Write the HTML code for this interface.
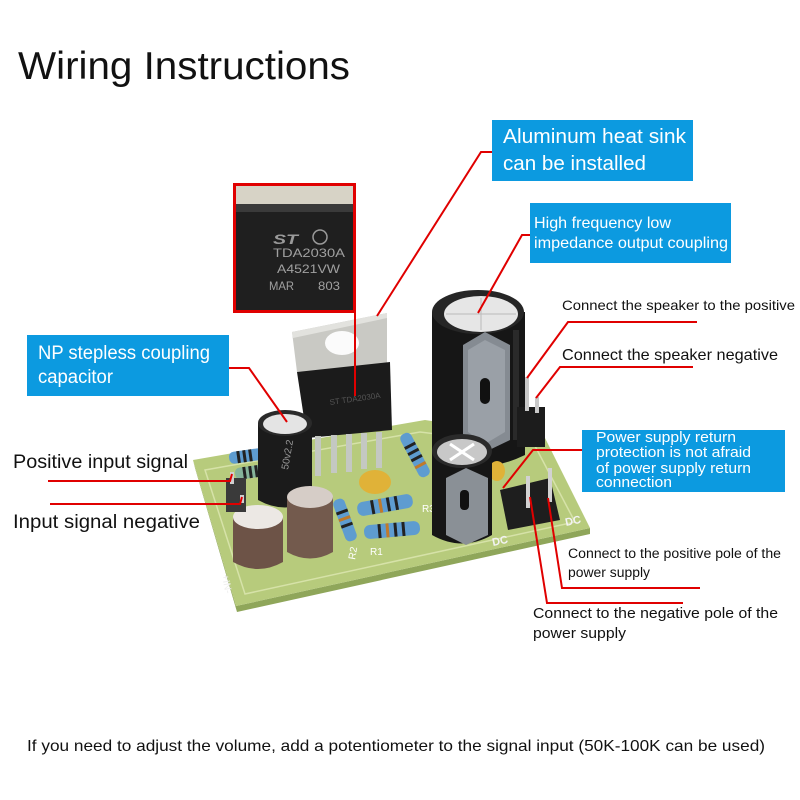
<!DOCTYPE html>
<html><head><meta charset="utf-8"><style>
html,body{margin:0;padding:0;background:#fff;}
svg{display:block;}
text{font-family:"Liberation Sans",sans-serif;}
</style></head><body>
<svg width="800" height="800" viewBox="0 0 800 800" xmlns="http://www.w3.org/2000/svg">
<rect width="800" height="800" fill="#fff"/>

<!-- Title -->
<text x="18" y="79" font-size="39" fill="#111" textLength="332" lengthAdjust="spacingAndGlyphs">Wiring Instructions</text>

<!-- ===== PCB photo approximation ===== -->
<!-- board thickness -->
<polygon points="193,460 236,606 590,528 590,534 237,612 195,468" fill="#8fa65a"/>
<!-- board -->
<polygon points="193,460 425,420 545,438 590,528 236,606" fill="#b7cb7c"/>
<polygon points="205,470 420,432 535,446 575,522 245,594" fill="none" stroke="#d6e2a8" stroke-width="1.5"/>

<!-- back-left resistors -->
<g transform="translate(246,456) rotate(-8)">
 <rect x="-17" y="-6" width="34" height="12" rx="5" fill="#5e9cd0"/>
 <rect x="-9" y="-6" width="3" height="12" fill="#222"/><rect x="-3" y="-6" width="3" height="12" fill="#222"/><rect x="3" y="-6" width="3" height="12" fill="#222"/>
</g>
<g transform="translate(251,472) rotate(-8)">
 <rect x="-16" y="-6" width="32" height="12" rx="5" fill="#86b49a"/>
 <rect x="-8" y="-6" width="3" height="12" fill="#222"/><rect x="-2" y="-6" width="3" height="12" fill="#222"/><rect x="4" y="-6" width="3" height="12" fill="#222"/>
</g>

<!-- big capacitor back -->
<path d="M432,312 L432,455 Q478,478 525,455 L525,312 Z" fill="#161616"/>
<ellipse cx="478" cy="312" rx="46" ry="22" fill="#262626"/>
<ellipse cx="481" cy="314" rx="37" ry="18" fill="#e6e6e6"/>
<line x1="481" y1="298" x2="481" y2="330" stroke="#bbb" stroke-width="1"/>
<line x1="446" y1="314" x2="516" y2="314" stroke="#bbb" stroke-width="1"/>
<polygon points="463,345 485,332 510,345 510,440 485,452 463,440" fill="#858b92"/>
<polygon points="468,350 485,340 505,350 505,432 485,444 468,432" fill="#9aa0a7"/>
<rect x="480" y="378" width="10" height="26" rx="5" fill="#111"/>
<rect x="513" y="330" width="6" height="110" fill="#2a2a2a"/>

<!-- IC tab -->
<polygon points="292,332 387,313 387,366 297,372" fill="#c9c9c4"/>
<polygon points="292,332 387,313 387,318 293,338" fill="#e2e2de"/>
<ellipse cx="342" cy="343" rx="17" ry="12" fill="#fbfbfb"/>
<!-- IC body -->
<polygon points="297,372 390,362 392,430 307,438" fill="#1b1b1b"/>
<text x="330" y="405" font-size="8" fill="#555" transform="rotate(-8 330 405)">ST TDA2030A</text>
<!-- pins -->
<g fill="#c4c8c2">
 <rect x="315" y="436" width="6" height="40"/>
 <rect x="331" y="435" width="6" height="38"/>
 <rect x="346" y="434" width="6" height="38"/>
 <rect x="361" y="433" width="6" height="36"/>
 <rect x="376" y="432" width="6" height="36"/>
</g>

<!-- resistor right of IC -->
<g transform="translate(415,455) rotate(62)">
 <rect x="-24" y="-6" width="48" height="12" rx="5" fill="#5e9cd0"/>
 <rect x="-12" y="-6" width="3" height="12" fill="#222"/><rect x="-5" y="-6" width="3" height="12" fill="#222"/><rect x="2" y="-6" width="3" height="12" fill="#222"/><rect x="10" y="-6" width="3" height="12" fill="#c07a2a"/>
</g>

<!-- small black cap 50V -->
<path d="M258,423 L258,500 Q285,515 312,500 L312,423 Z" fill="#1b1b1b"/>
<ellipse cx="285" cy="423" rx="27" ry="13" fill="#2a2a2a"/>
<ellipse cx="285" cy="424" rx="22" ry="10" fill="#e4e4e4"/>
<text x="288" y="470" font-size="10" fill="#999" transform="rotate(-80 288 470)">50v2.2</text>

<!-- yellow caps -->
<ellipse cx="375" cy="482" rx="16" ry="12" fill="#e0b238"/>
<ellipse cx="497" cy="471" rx="8" ry="10" fill="#e0b238"/>

<!-- middle resistors -->
<g transform="translate(385,505) rotate(-10)">
 <rect x="-28" y="-7" width="56" height="14" rx="6" fill="#5e9cd0"/>
 <rect x="-14" y="-7" width="3" height="14" fill="#222"/><rect x="-6" y="-7" width="3" height="14" fill="#c07a2a"/><rect x="2" y="-7" width="3" height="14" fill="#222"/><rect x="10" y="-7" width="3" height="14" fill="#222"/>
</g>
<g transform="translate(392,530) rotate(-5)">
 <rect x="-28" y="-7" width="56" height="14" rx="6" fill="#5e9cd0"/>
 <rect x="-14" y="-7" width="3" height="14" fill="#222"/><rect x="-6" y="-7" width="3" height="14" fill="#c07a2a"/><rect x="2" y="-7" width="3" height="14" fill="#222"/><rect x="10" y="-7" width="3" height="14" fill="#222"/>
</g>
<g transform="translate(345,520) rotate(70)">
 <rect x="-22" y="-6" width="44" height="12" rx="5" fill="#5e9cd0"/>
 <rect x="-10" y="-6" width="3" height="12" fill="#222"/><rect x="-3" y="-6" width="3" height="12" fill="#c07a2a"/><rect x="4" y="-6" width="3" height="12" fill="#222"/>
</g>
<text x="355" y="560" font-size="10" fill="#fff" transform="rotate(-80 355 560)">R2</text>
<text x="370" y="555" font-size="10" fill="#fff">R1</text>
<text x="422" y="512" font-size="10" fill="#fff">R3</text>

<!-- front black cap -->
<path d="M432,452 L432,535 Q462,552 492,535 L492,452 Z" fill="#161616"/>
<ellipse cx="462" cy="451" rx="30" ry="17" fill="#2a2a2a"/>
<ellipse cx="462" cy="452" rx="25" ry="13" fill="#c8c8c8"/>
<line x1="450" y1="444" x2="474" y2="460" stroke="#fff" stroke-width="3"/>
<line x1="474" y1="444" x2="450" y2="460" stroke="#fff" stroke-width="3"/>
<polygon points="446,478 466,468 488,478 488,535 466,545 446,535" fill="#8a9096"/>
<rect x="460" y="490" width="9" height="20" rx="4" fill="#111"/>

<!-- brown caps -->
<path d="M233,517 L233,562 Q258,576 283,562 L283,517 Z" fill="#6d5347"/>
<ellipse cx="258" cy="517" rx="25" ry="12" fill="#ece8e4"/>
<path d="M287,497 L287,552 Q310,565 333,552 L333,497 Z" fill="#735a4d"/>
<ellipse cx="310" cy="497" rx="23" ry="11" fill="#d6cdc7"/>

<!-- speaker header -->
<rect x="517" y="407" width="28" height="40" fill="#1c1c1c"/>
<rect x="525" y="377" width="4" height="34" fill="#c9c9c9"/>
<rect x="535" y="397" width="4" height="16" fill="#c9c9c9"/>

<!-- power header -->
<polygon points="500,490 550,478 560,520 508,530" fill="#1e1e1e"/>
<rect x="526" y="476" width="4" height="32" fill="#d2d2d2"/>
<rect x="548" y="468" width="4" height="34" fill="#d2d2d2"/>
<text x="493" y="546" font-size="11" font-weight="bold" fill="#f2f2f2" transform="rotate(-12 493 546)">DC</text>
<text x="566" y="526" font-size="11" font-weight="bold" fill="#f2f2f2" transform="rotate(-12 566 526)">DC</text>

<!-- input header -->
<rect x="226" y="478" width="20" height="34" fill="#3a3a3a"/>
<rect x="230" y="472" width="4" height="12" fill="#cfcfcf"/>
<rect x="240" y="495" width="4" height="8" fill="#cfcfcf"/>
<text x="222" y="575" font-size="10" fill="#eee" transform="rotate(80 222 575)">+IN-</text>

<!-- ===== Chip inset ===== -->
<rect x="234.5" y="184.5" width="120" height="127" fill="#1f1f1f" stroke="#e00000" stroke-width="3"/>
<rect x="236" y="186" width="117" height="18" fill="#d7d3c6"/>
<rect x="236" y="204" width="117" height="8" fill="#3a3a3a"/>
<text x="273" y="244" font-size="14" font-weight="bold" font-style="italic" fill="#9a9a9a" textLength="25" lengthAdjust="spacingAndGlyphs">ST</text>
<circle cx="320" cy="237" r="7" fill="none" stroke="#9a9a9a" stroke-width="1.5"/>
<text x="273" y="257" font-family="Liberation Mono,monospace" font-size="12" fill="#a0a0a0" textLength="72" lengthAdjust="spacingAndGlyphs">TDA2030A</text>
<text x="277" y="273" font-family="Liberation Mono,monospace" font-size="12" fill="#a0a0a0" textLength="63" lengthAdjust="spacingAndGlyphs">A4521VW</text>
<text x="269" y="290" font-family="Liberation Mono,monospace" font-size="12" fill="#a0a0a0" textLength="25" lengthAdjust="spacingAndGlyphs">MAR</text>
<text x="318" y="290" font-family="Liberation Mono,monospace" font-size="12" fill="#a0a0a0" textLength="22" lengthAdjust="spacingAndGlyphs">803</text>

<!-- ===== Blue boxes ===== -->
<rect x="492" y="120" width="201" height="61" fill="#0c9ae0"/>
<text x="503" y="143" font-size="20" fill="#fff" textLength="183" lengthAdjust="spacingAndGlyphs">Aluminum heat sink</text>
<text x="503" y="170" font-size="20" fill="#fff" textLength="143" lengthAdjust="spacingAndGlyphs">can be installed</text>

<rect x="530" y="203" width="201" height="60" fill="#0c9ae0"/>
<text x="534" y="228" font-size="16" fill="#fff" textLength="137" lengthAdjust="spacingAndGlyphs">High frequency low</text>
<text x="534" y="248" font-size="16" fill="#fff" textLength="194" lengthAdjust="spacingAndGlyphs">impedance output coupling</text>

<rect x="27" y="335" width="202" height="61" fill="#0c9ae0"/>
<text x="38" y="359" font-size="19" fill="#fff" textLength="172" lengthAdjust="spacingAndGlyphs">NP stepless coupling</text>
<text x="38" y="383" font-size="19" fill="#fff" textLength="75" lengthAdjust="spacingAndGlyphs">capacitor</text>

<rect x="582" y="430" width="203" height="62" fill="#0c9ae0"/>
<text x="596" y="442" font-size="14.5" fill="#fff" textLength="140" lengthAdjust="spacingAndGlyphs">Power supply return</text>
<text x="596" y="457" font-size="14.5" fill="#fff" textLength="155" lengthAdjust="spacingAndGlyphs">protection is not afraid</text>
<text x="596" y="473" font-size="14.5" fill="#fff" textLength="155" lengthAdjust="spacingAndGlyphs">of power supply return</text>
<text x="596" y="487" font-size="14.5" fill="#fff" textLength="76" lengthAdjust="spacingAndGlyphs">connection</text>

<!-- ===== Plain labels ===== -->
<text x="13" y="468" font-size="19" fill="#111" textLength="175" lengthAdjust="spacingAndGlyphs">Positive input signal</text>
<text x="13" y="528" font-size="19" fill="#111" textLength="187" lengthAdjust="spacingAndGlyphs">Input signal negative</text>
<text x="562" y="310" font-size="14" fill="#111" textLength="233" lengthAdjust="spacingAndGlyphs">Connect the speaker to the positive</text>
<text x="562" y="360" font-size="16" fill="#111" textLength="216" lengthAdjust="spacingAndGlyphs">Connect the speaker negative</text>
<text x="568" y="558" font-size="13.5" fill="#111" textLength="213" lengthAdjust="spacingAndGlyphs">Connect to the positive pole of the</text>
<text x="568" y="577" font-size="13.5" fill="#111" textLength="82" lengthAdjust="spacingAndGlyphs">power supply</text>
<text x="533" y="618" font-size="14.5" fill="#111" textLength="245" lengthAdjust="spacingAndGlyphs">Connect to the negative pole of the</text>
<text x="533" y="638" font-size="14.5" fill="#111" textLength="93" lengthAdjust="spacingAndGlyphs">power supply</text>

<text x="27" y="751" font-size="16" fill="#111" textLength="738" lengthAdjust="spacingAndGlyphs">If you need to adjust the volume, add a potentiometer to the signal input (50K-100K can be used)</text>

<!-- ===== Red leader lines ===== -->
<g fill="none" stroke="#e00000" stroke-width="2" stroke-linejoin="miter">
 <polyline points="492,152 481,152 377,316"/>
 <polyline points="530,235 522,235 478,313"/>
 <polyline points="355,313 355,396"/>
 <polyline points="229,368 249,368 287,422"/>
 <polyline points="48,481 230,481 232,474"/>
 <polyline points="50,504 240,504 242,497"/>
 <polyline points="697,322 568,322 527,378"/>
 <polyline points="693,367 560,367 536,398"/>
 <polyline points="582,450 533,450 503,488"/>
 <polyline points="700,588 562,588 548,498"/>
 <polyline points="683,603 547,603 530,497"/>
</g>
</svg>
</body></html>
